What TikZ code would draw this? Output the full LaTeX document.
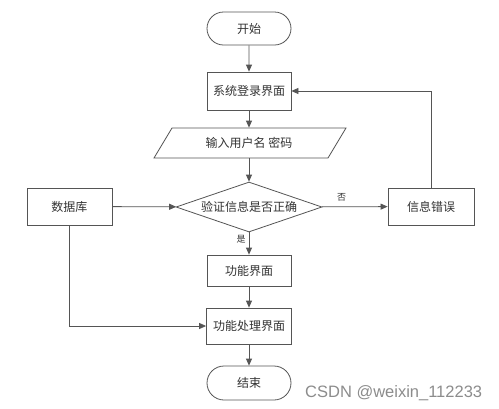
\documentclass[tikz,border=0pt]{standalone}
\usepackage{fontspec}
\newfontfamily\cjk{Noto Sans CJK SC}
\newfontfamily\wm{Liberation Sans}
\usetikzlibrary{shapes.geometric,shapes.misc,arrows.meta}
\definecolor{lin}{HTML}{555555}
\definecolor{txt}{HTML}{333333}
\tikzset{
  base/.style={draw=lin, line width=0.8pt, text=txt, font=\cjk\fontsize{12}{14}\selectfont, inner sep=0pt},
  box/.style={base, rectangle},
  term/.style={base, rounded rectangle},
  dec/.style={base, diamond, aspect=2.9},
  conn/.style={draw=lin, line width=0.8pt, -{Triangle[length=7pt,width=6pt]}},
  plain/.style={draw=lin, line width=0.8pt},
  lab/.style={text=txt, font=\cjk\fontsize{9}{10}\selectfont, inner sep=1pt}
}
\begin{document}
\begin{tikzpicture}[x=1pt,y=-1pt]
\useasboundingbox (0,0) rectangle (499,408);
\fill[white] (0,0) rectangle (499,408);
% nodes
\node[term, minimum width=84pt, minimum height=33pt] (start) at (249,28.5) {开始};
\node[box, minimum width=84pt, minimum height=38pt] (sys) at (249,91) {系统登录界面};
\coordinate (p1) at (172,128);
\coordinate (p2) at (346,128);
\coordinate (p3) at (328,158);
\coordinate (p4) at (154,158);
\draw[plain] (p1) -- (p2) -- (p3) -- (p4) -- cycle;
\node[base, draw=none, minimum width=150pt, minimum height=30pt] (inp) at (249,143) {输入用户名 密码};
\node[dec, minimum width=146pt, minimum height=50pt] (chk) at (249,207) {验证信息是否正确};
\node[box, minimum width=85pt, minimum height=37pt] (db) at (69.5,206.5) {数据库};
\node[box, minimum width=86pt, minimum height=37pt] (err) at (431,206.5) {信息错误};
\node[box, minimum width=84pt, minimum height=31pt] (fun) at (249,270.5) {功能界面};
\node[box, minimum width=85pt, minimum height=36pt] (proc) at (249,326) {功能处理界面};
\node[term, minimum width=84pt, minimum height=34pt] (stop) at (249,383) {结束};
% connectors
\draw[conn] (start) -- (sys);
\draw[conn] (sys) -- (inp);
\draw[conn] (inp) -- (chk);
\draw[conn] (chk) -- node[lab, pos=0.3, left=2pt] {是} (fun);
\draw[conn] (fun) -- (proc);
\draw[conn] (proc) -- (stop);
\draw[conn] (db) -- (chk);
\draw[conn] (chk) -- node[lab, above=4pt, pos=0.3] {否} (err);
\draw[conn] (err.north) |- (sys.east);
\draw[conn] (db.south) |- (proc.west);
% watermark
\node[text=black!45, font=\wm\fontsize{16.5}{18}\selectfont, inner sep=0pt, anchor=base west] (wmk) at (305,397) {CSDN @weixin\_112233};
\end{tikzpicture}
\end{document}
